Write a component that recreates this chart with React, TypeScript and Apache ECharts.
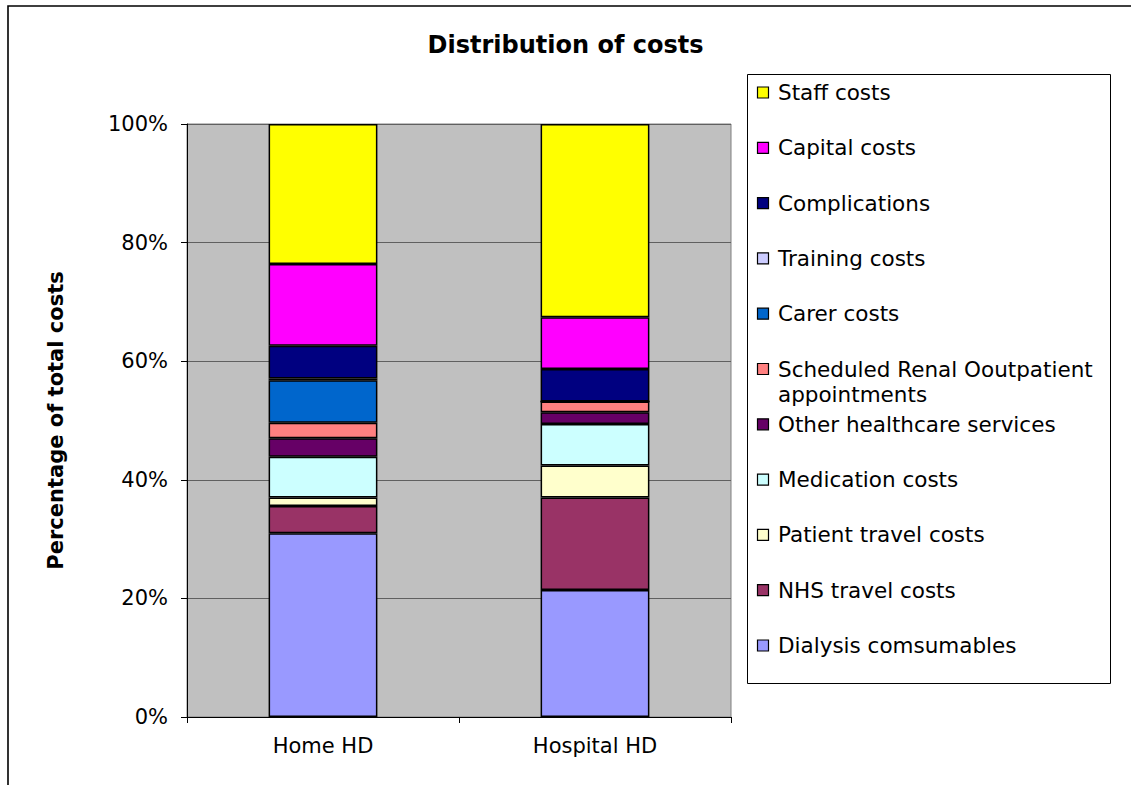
import React, { useEffect, useRef } from "react";
import * as echarts from "echarts";

const categories = ["Home HD", "Hospital HD"];

const seriesNames = [
  "Dialysis comsumables",
  "NHS travel costs",
  "Patient travel costs",
  "Medication costs",
  "Other healthcare services",
  "Scheduled Renal Ooutpatient appointments",
  "Carer costs",
  "Training costs",
  "Complications",
  "Capital costs",
  "Staff costs",
];

const legendLabels = [
  "Dialysis comsumables",
  "NHS travel costs",
  "Patient travel costs",
  "Medication costs",
  "Other healthcare services",
  "Scheduled Renal Ooutpatient\nappointments",
  "Carer costs",
  "Training costs",
  "Complications",
  "Capital costs",
  "Staff costs",
];

const seriesColors = [
  "#9999FF",
  "#993366",
  "#FFFFCC",
  "#CCFFFF",
  "#660066",
  "#FF8080",
  "#0066CC",
  "#CCCCFF",
  "#000080",
  "#FF00FF",
  "#FFFF00",
];

// percentage of total costs: [Home HD, Hospital HD]
const dialysis = [31.0, 21.4];
const nhsTravel = [4.6, 15.6];
const patientTravel = [1.4, 5.4];
const medication = [6.9, 7.0];
const otherHealthcare = [3.1, 2.0];
const scheduledOutpatient = [2.6, 1.8];
const carer = [7.2, 0];
const training = [0.3, 0];
const complications = [5.5, 5.5];
const capital = [13.8, 8.7];
const staff = [23.6, 32.6];

const seriesValues = [
  dialysis,
  nhsTravel,
  patientTravel,
  medication,
  otherHealthcare,
  scheduledOutpatient,
  carer,
  training,
  complications,
  capital,
  staff,
];

const yTicks = [0, 20, 40, 60, 80, 100];

const FONT = '"DejaVu Sans", Verdana, sans-serif';

export default function App() {
  const ref = useRef<HTMLDivElement>(null);

  useEffect(() => {
    if (!ref.current) return;
    const chart = echarts.init(ref.current, undefined, { renderer: "svg" });

    const legendElements: any[] = [];
    legendElements.push({
      type: "rect",
      shape: { x: 747.5, y: 74.5, width: 363, height: 609 },
      style: { fill: "#fff", stroke: "#000", lineWidth: 1 },
      z: 1,
    });
    const n = seriesNames.length;
    for (let k = 0; k < n; k++) {
      const i = n - 1 - k;
      const cy = 92.5 + k * 55.3;
      legendElements.push({
        type: "rect",
        shape: { x: 757.5, y: cy - 5.5, width: 11, height: 11 },
        style: { fill: seriesColors[i], stroke: "#000", lineWidth: 1.2 },
        z: 2,
      });
      legendElements.push({
        type: "text",
        x: 778,
        y: cy - 12.5,
        style: {
          text: legendLabels[i],
          font: `21.5px ${FONT}`,
          fill: "#000",
          verticalAlign: "top",
          align: "left",
          lineHeight: 25,
        },
        z: 2,
      });
    }

    const option: any = {
      animation: false,
      backgroundColor: "#fff",
      title: {
        text: "Distribution of costs",
        left: "center",
        top: 33,
        padding: 0,
        textStyle: {
          fontFamily: FONT,
          fontWeight: "bold",
          fontSize: 24,
          color: "#000",
        },
      },
      grid: {
        left: 187,
        top: 124,
        right: 400,
        bottom: 68,
        show: true,
        backgroundColor: "#C0C0C0",
        borderColor: "#808080",
        borderWidth: 1,
        containLabel: false,
      },
      xAxis: {
        type: "category",
        data: categories,
        axisLine: { show: true, lineStyle: { color: "#000", width: 1 } },
        axisTick: { show: true, length: 6, lineStyle: { color: "#000" } },
        axisLabel: {
          margin: 18,
          fontFamily: FONT,
          fontSize: 21,
          color: "#000",
        },
        splitLine: { show: false },
      },
      yAxis: {
        type: "value",
        min: yTicks[0],
        max: yTicks[yTicks.length - 1],
        interval: 20,
        name: "Percentage of total costs",
        nameLocation: "middle",
        nameRotate: 90,
        nameGap: 121,
        nameTextStyle: {
          fontFamily: FONT,
          fontWeight: "bold",
          fontSize: 21,
          color: "#000",
        },
        axisLine: { show: true, lineStyle: { color: "#000", width: 1 } },
        axisTick: { show: true, length: 6, inside: false, lineStyle: { color: "#000" } },
        axisLabel: {
          margin: 19,
          formatter: "{value}%",
          fontFamily: FONT,
          fontSize: 21,
          color: "#000",
        },
        splitLine: { show: true, lineStyle: { color: "#606060", width: 1 } },
      },
      graphic: [
        {
          type: "rect",
          shape: { x: 8, y: 6, width: 1300, height: 1000 },
          style: { fill: "none", stroke: "#000", lineWidth: 1.6 },
          z: 0,
          silent: true,
        },
        ...legendElements,
      ],
      series: seriesNames.map((name, i) => ({
        name,
        type: "bar",
        stack: "costs",
        barWidth: "40%",
        data: seriesValues[i],
        itemStyle: {
          color: seriesColors[i],
          borderColor: "#000",
          borderWidth: 1.5,
        },
      })),
    };

    chart.setOption(option);
    return () => {
      chart.dispose();
    };
  }, []);

  return (
    <div
      ref={ref}
      style={{ position: "absolute", left: 0, top: 0, width: 1131, height: 785 }}
    />
  );
}
